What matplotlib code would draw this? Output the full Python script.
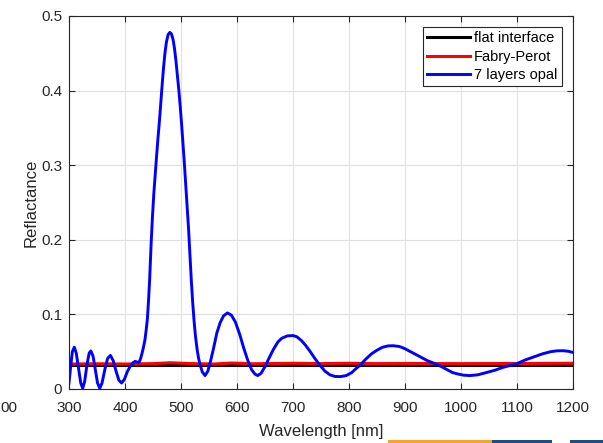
import numpy as np
import matplotlib
matplotlib.use('Agg')
import matplotlib.pyplot as plt
from matplotlib.patches import Rectangle

plt.rcParams['font.family'] = ['Liberation Sans', 'DejaVu Sans']

# 7 layers opal
wl_opal = [300, 303, 306, 309.5, 313, 317, 321, 324.5, 328, 332, 336, 339, 343, 347, 351, 355,
           359, 364, 369, 374, 379, 384, 389, 394, 399, 404, 409, 414, 418, 422, 425.5, 428,
           430.5, 433, 435.7, 438, 440, 442, 444, 446.7, 449, 451.5, 454, 456.5, 459, 461.5,
           464, 466.5, 469, 471.5, 474, 477, 480, 483, 486, 488.5, 491, 493.5, 496, 498.5, 501,
           503.5, 506, 508.5, 511, 513.5, 516, 518.5, 521, 523.5, 526, 529, 531.5, 534, 538,
           543, 548, 553, 558, 564, 570, 576, 583, 590, 597, 605, 612, 619, 626, 632, 637, 643,
           650, 657, 665, 673, 680, 690, 700, 707, 715, 722, 730, 739, 748, 757, 766, 775, 785,
           795, 805, 812, 820, 830, 840, 850, 860, 870, 879, 890, 900, 910, 920, 930, 940, 950,
           957, 965, 975, 985, 995, 1005, 1016, 1030, 1045, 1060, 1075, 1090, 1100, 1115, 1130,
           1145, 1160, 1172, 1183, 1192, 1200]
r_opal = [0.008, 0.030, 0.050, 0.056, 0.048, 0.028, 0.008, 0.001, 0.010, 0.032, 0.048, 0.051,
          0.044, 0.026, 0.008, 0.001, 0.008, 0.026, 0.041, 0.045, 0.038, 0.024, 0.012, 0.008,
          0.013, 0.023, 0.030, 0.035, 0.037, 0.036, 0.036, 0.041, 0.048, 0.056, 0.066, 0.080,
          0.094, 0.118, 0.146, 0.195, 0.230, 0.262, 0.288, 0.313, 0.337, 0.359, 0.385, 0.409,
          0.432, 0.451, 0.465, 0.475, 0.478, 0.476, 0.468, 0.456, 0.440, 0.421, 0.402, 0.380,
          0.356, 0.330, 0.303, 0.274, 0.245, 0.215, 0.180, 0.145, 0.115, 0.090, 0.070, 0.052,
          0.041, 0.033, 0.023, 0.018, 0.024, 0.038, 0.054, 0.075, 0.089, 0.098, 0.102, 0.099,
          0.090, 0.073, 0.055, 0.039, 0.026, 0.020, 0.018, 0.021, 0.030, 0.041, 0.053, 0.063,
          0.068, 0.0712, 0.0716, 0.070, 0.065, 0.059, 0.051, 0.041, 0.032, 0.024, 0.019, 0.0168,
          0.0166, 0.018, 0.022, 0.027, 0.032, 0.040, 0.047, 0.052, 0.056, 0.0578, 0.058, 0.057,
          0.054, 0.050, 0.046, 0.042, 0.038, 0.035, 0.033, 0.030, 0.026, 0.022, 0.020, 0.0185,
          0.018, 0.019, 0.022, 0.025, 0.029, 0.032, 0.034, 0.039, 0.043, 0.047, 0.050, 0.0512,
          0.0513, 0.0505, 0.049]

# Fabry-Perot and flat interface
wl_fp = [300, 350, 400, 450, 480, 520, 560, 590, 630, 700, 750, 800, 850, 900, 1000, 1100, 1200]
r_fp = [0.0335, 0.0338, 0.0335, 0.034, 0.0352, 0.034, 0.0335, 0.0348, 0.0338, 0.0345, 0.034,
        0.0345, 0.034, 0.0342, 0.034, 0.0342, 0.0345]
wl_flat = [300, 1200]
r_flat = [0.0328, 0.0328]

fig = plt.figure(figsize=(6.03, 4.43), dpi=100)
ax = fig.add_axes([0.1144, 0.1219, 0.8358, 0.842])

ax.plot(wl_flat, r_flat, color='black', lw=2.2, label='flat interface')
ax.plot(wl_fp, r_fp, color='red', lw=2.2, label='Fabry-Perot')
ax.plot(wl_opal, r_opal, color='blue', lw=2.1, label='7 layers opal')

ax.set_xlim(300, 1200)
ax.set_ylim(0, 0.5)
ax.set_xticks(np.arange(300, 1201, 100))
ax.set_yticks([0, 0.1, 0.2, 0.3, 0.4, 0.5])
ax.set_yticklabels(['0', '0.1', '0.2', '0.3', '0.4', '0.5'])
ax.grid(True, color='#dfdfdf', lw=0.8)
ax.set_axisbelow(True)
ax.tick_params(direction='in', length=4, top=True, right=True, labelsize=11,
               colors='#262626', pad=5)
ax.tick_params(axis='x', pad=9)
for s in ax.spines.values():
    s.set_color('#262626')
    s.set_linewidth(0.8)

ax.set_xlabel('Wavelength [nm]', fontsize=12, color='#262626', labelpad=6)
ax.set_ylabel('Reflactance', fontsize=12, color='#262626', labelpad=2)

leg = ax.legend(loc='upper right', bbox_to_anchor=(0.978, 0.9705), borderaxespad=0,
                fontsize=10.5, fancybox=False, framealpha=1, edgecolor='#262626',
                handlelength=2.9, handletextpad=0.3, borderpad=0.3, labelspacing=0.3)
leg.get_frame().set_linewidth(0.8)

# bits of neighbouring figures cut into the screenshot
fig.text(0.0, 0.079, '00', fontsize=11, color='#262626', va='center', ha='left')
fig.patches.append(Rectangle((388 / 603, 0), 104 / 603, 3 / 443, transform=fig.transFigure,
                             color='#f2a530', lw=0))
fig.patches.append(Rectangle((492 / 603, 0), 60 / 603, 3 / 443, transform=fig.transFigure,
                             color='#1d4f7c', lw=0))
fig.patches.append(Rectangle((570 / 603, 0), 33 / 603, 3 / 443, transform=fig.transFigure,
                             color='#1d4f7c', lw=0))

fig.savefig('out.png', dpi=100)
